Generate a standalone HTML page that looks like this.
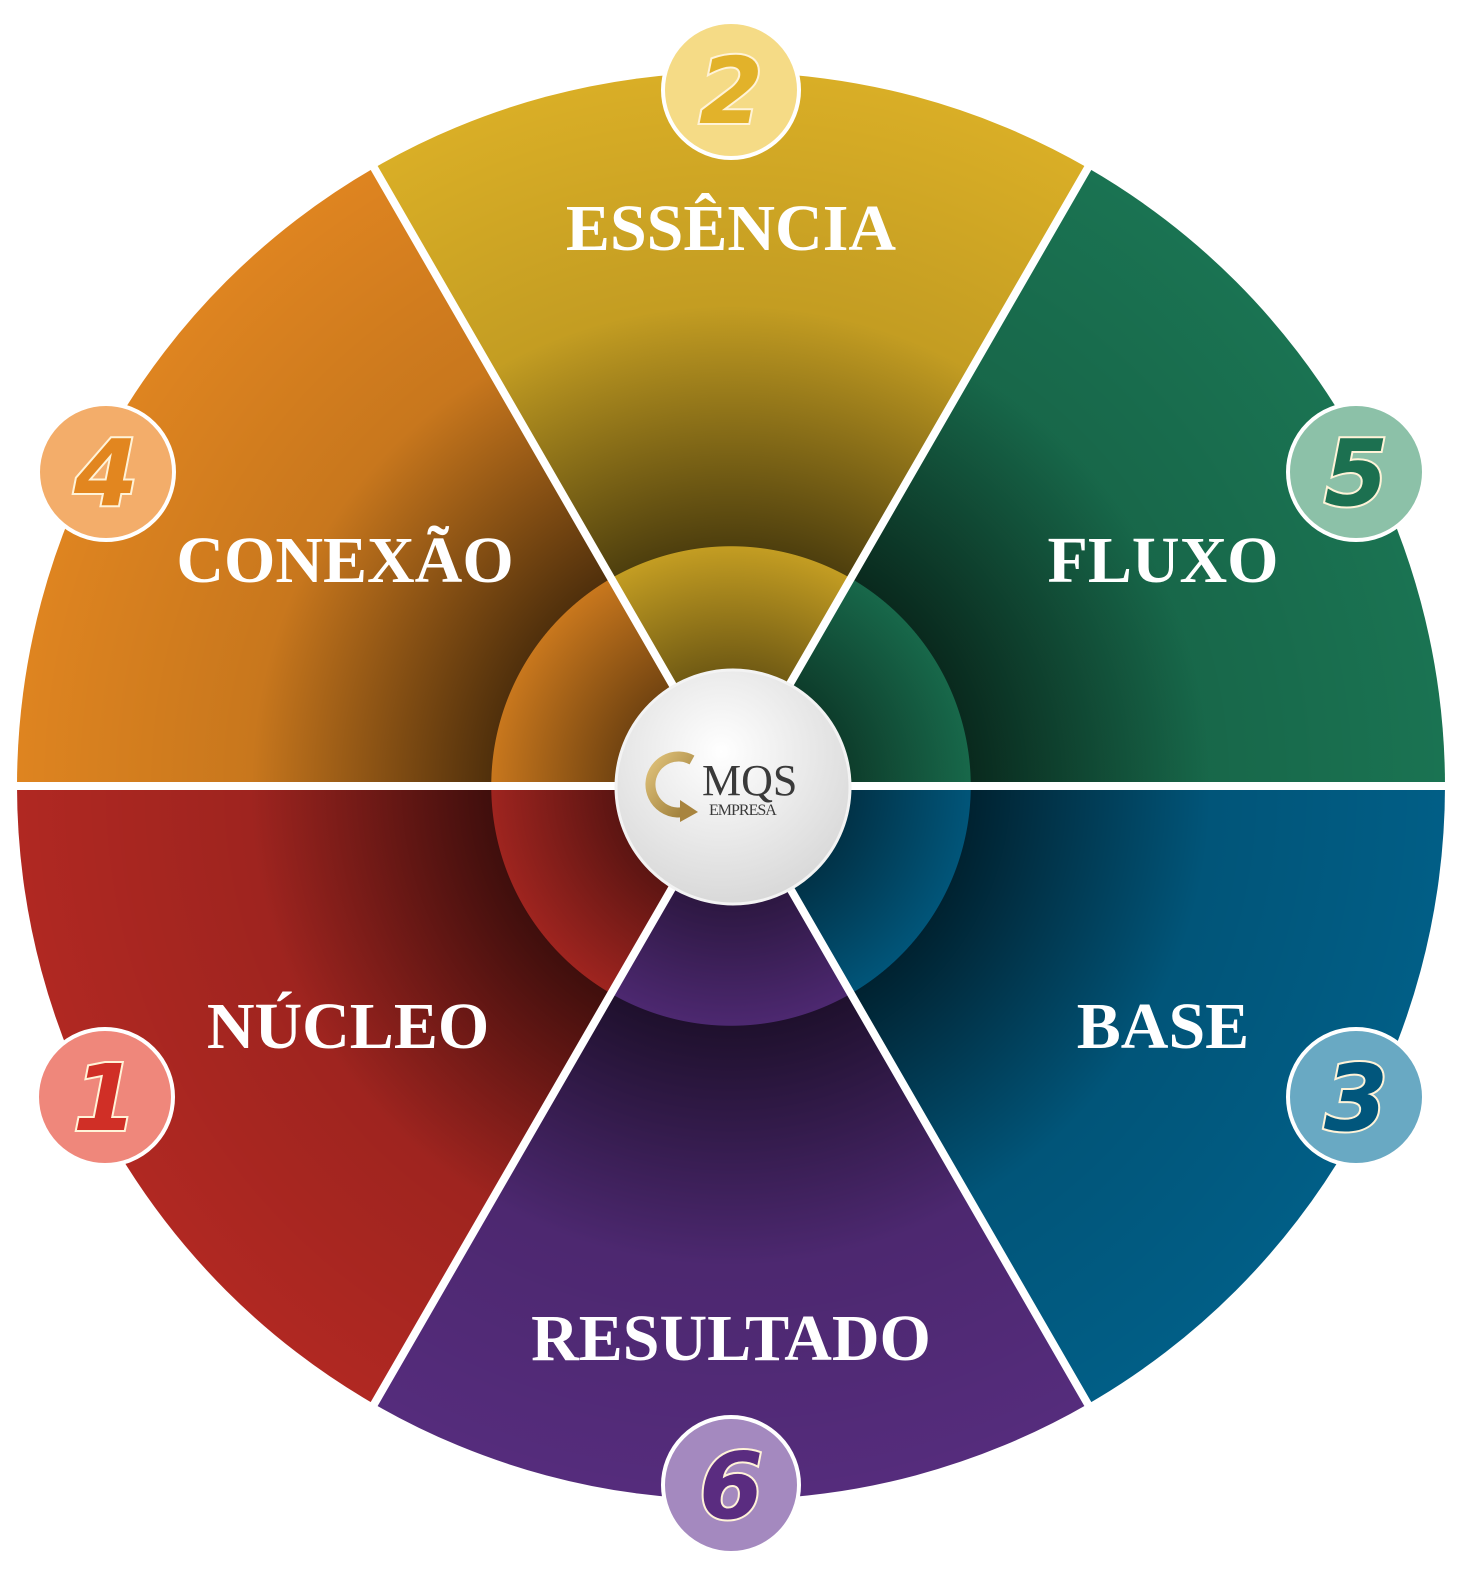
<!DOCTYPE html>
<html><head><meta charset="utf-8"><style>html,body{margin:0;padding:0;background:#fff}svg{display:block}</style></head>
<body>
<svg width="1477" height="1587" viewBox="0 0 1477 1587" xmlns="http://www.w3.org/2000/svg">
<defs>
<radialGradient id="r1" cx="731" cy="786" r="480" gradientUnits="userSpaceOnUse">
<stop offset="0" stop-color="#000" stop-opacity="0"/>
<stop offset="0.499" stop-color="#000" stop-opacity="0"/>
<stop offset="0.5" stop-color="#000" stop-opacity="0.6"/>
<stop offset="1" stop-color="#000" stop-opacity="0"/>
</radialGradient>
<radialGradient id="r0" cx="731" cy="786" r="714" gradientUnits="userSpaceOnUse">
<stop offset="0.67" stop-color="#000" stop-opacity="0.1"/>
<stop offset="1" stop-color="#000" stop-opacity="0"/>
</radialGradient>
<radialGradient id="r2" cx="731" cy="786" r="240" gradientUnits="userSpaceOnUse">
<stop offset="0.45" stop-color="#000" stop-opacity="0.45"/>
<stop offset="1" stop-color="#000" stop-opacity="0"/>
</radialGradient>
<radialGradient id="cw" cx="0.45" cy="0.35" r="0.7">
<stop offset="0" stop-color="#ffffff"/><stop offset="1" stop-color="#d6d6d6"/>
</radialGradient>
<linearGradient id="gold" x1="0" y1="0" x2="1" y2="1"><stop offset="0" stop-color="#e0c27a"/><stop offset="1" stop-color="#9a7a36"/></linearGradient>
</defs>
<g>
<path d="M731 786 L374 168 A714 714 0 0 1 1088 168 Z" fill="#d9ae26"/>
<path d="M731 786 L1088 168 A714 714 0 0 1 1445 786 Z" fill="#1a7352"/>
<path d="M731 786 L1445 786 A714 714 0 0 1 1088 1404 Z" fill="#015e86"/>
<path d="M731 786 L1088 1404 A714 714 0 0 1 374 1404 Z" fill="#552c7c"/>
<path d="M731 786 L374 1404 A714 714 0 0 1 17 786 Z" fill="#b02822"/>
<path d="M731 786 L17 786 A714 714 0 0 1 374 168 Z" fill="#de8420"/>
<circle cx="731" cy="786" r="714" fill="url(#r0)"/>
<circle cx="731" cy="786" r="480" fill="url(#r1)"/>
<circle cx="731" cy="786" r="240" fill="url(#r2)"/>
<g stroke="#fff" stroke-width="8">
<line x1="0" y1="786" x2="1477" y2="786"/>
<line x1="369" y1="159" x2="1093" y2="1413"/>
<line x1="1093" y1="159" x2="369" y2="1413"/>
</g>
</g>
<circle cx="733" cy="787" r="117" fill="url(#cw)" stroke="#f3f3f3" stroke-width="3"/>
<path d="M692 760 A28 28 0 1 0 690 810" fill="none" stroke="url(#gold)" stroke-width="10"/>
<path d="M680 800 L698 812 L680 822 Z" fill="#a8843e"/>
<text x="702" y="795" font-family="Liberation Serif,serif" font-size="44" fill="#3a3a3a">MQS</text>
<text x="709" y="815" font-family="Liberation Serif,serif" font-size="16" fill="#3a3a3a" letter-spacing="-1">EMPRESA</text>
<g font-family="Liberation Serif,serif" font-weight="bold" font-size="66" fill="#fff" text-anchor="middle">
<text x="731" y="250">ESSÊNCIA</text>
<text x="345" y="582">CONEXÃO</text>
<text x="1163" y="582">FLUXO</text>
<text x="348" y="1048">NÚCLEO</text>
<text x="1163" y="1048">BASE</text>
<text x="731" y="1360">RESULTADO</text>
</g>
<g stroke="#fff" stroke-width="4">
<circle cx="731" cy="90" r="68" fill="#f5db86"/>
<circle cx="106" cy="472" r="68" fill="#f3ad6a"/>
<circle cx="1356" cy="472" r="68" fill="#8cc1a8"/>
<circle cx="105" cy="1097" r="68" fill="#ef877b"/>
<circle cx="1356" cy="1097" r="68" fill="#69a9c3"/>
<circle cx="731" cy="1485" r="68" fill="#a489bf"/>
</g>
<g font-family="DejaVu Sans,sans-serif" font-weight="bold" font-style="oblique" font-size="92" text-anchor="middle" stroke="#fff3d8" stroke-width="4" paint-order="stroke">
<text x="731" y="123" fill="#e2b22a">2</text>
<text x="106" y="505" fill="#e2861f">4</text>
<text x="1356" y="505" fill="#1c7050">5</text>
<text x="105" y="1130" fill="#d02f26">1</text>
<text x="1356" y="1130" fill="#01567c">3</text>
<text x="731" y="1518" fill="#5a2c80">6</text>
</g>
</svg>
</body></html>
